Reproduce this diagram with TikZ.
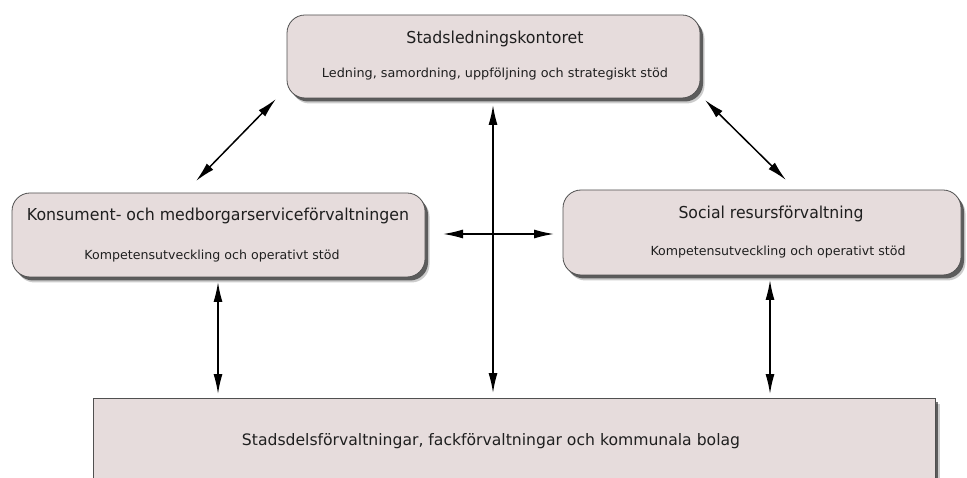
\documentclass[tikz,border=0pt]{standalone}
\usepackage{fontspec}
\setmainfont{DejaVu Sans}
\usetikzlibrary{arrows.meta,shadows}
\definecolor{boxfill}{HTML}{E6DCDC}
\definecolor{boxline}{HTML}{505050}
\tikzset{
  softshadow/.style={
    drop shadow={shadow xshift=4.5bp, shadow yshift=-5.5bp, fill=black, opacity=0.2},
    drop shadow={shadow xshift=3bp, shadow yshift=-3.5bp, fill=black, opacity=0.55}},
  orgbox/.style={draw=boxline, line width=0.8pt, fill=boxfill, rounded corners=18bp, softshadow},
  flatbox/.style={draw=boxline, line width=0.8pt, fill=boxfill, softshadow},
  link/.style={line width=1.5bp, {Latex[length=20bp,width=9bp]}-{Latex[length=20bp,width=9bp]}},
  txt/.style={inner sep=0pt, anchor=base, text=black!88}
}
\begin{document}
\begin{tikzpicture}[x=1bp,y=-1bp]
\useasboundingbox (0,0) rectangle (967,478);
\clip (0,0) rectangle (967,478);
% boxes
\path[orgbox] (287,15) rectangle (700,98);
\path[orgbox] (12,193) rectangle (425,277);
\path[orgbox] (563,190) rectangle (961,275);
\path[flatbox] (93,398) rectangle (935,490);
% texts
\node[txt] (t1) at (495,44) {\resizebox{177bp}{12.5bp}{Stadsledningskontoret}};
\node[txt] (t2) at (495,78) {\resizebox{346bp}{9.5bp}{Ledning, samordning, uppföljning och strategiskt stöd}};
\node[txt] (l1) at (218,221) {\resizebox{382bp}{12.5bp}{Konsument- och medborgarserviceförvaltningen}};
\node[txt] (l2) at (212,260) {\resizebox{255bp}{9.5bp}{Kompetensutveckling och operativt stöd}};
\node[txt] (r1) at (771,219) {\resizebox{185bp}{12.5bp}{Social resursförvaltning}};
\node[txt] (r2) at (778,256) {\resizebox{255bp}{9.5bp}{Kompetensutveckling och operativt stöd}};
\node[txt] (b1) at (491,445) {\resizebox{498bp}{12bp}{Stadsdelsförvaltningar, fackförvaltningar och kommunala bolag}};
% arrow endpoints
\coordinate (a1s) at (276,99);  \coordinate (a1e) at (196,181);
\coordinate (a2s) at (705,100); \coordinate (a2e) at (786,180);
\coordinate (a3s) at (493,105); \coordinate (a3e) at (493,393);
\coordinate (a4s) at (443,234); \coordinate (a4e) at (554,234);
\coordinate (a5s) at (218,282); \coordinate (a5e) at (218,394);
\coordinate (a6s) at (770,280); \coordinate (a6e) at (770,394);
\draw[link] (a1s) -- (a1e);
\draw[link] (a2s) -- (a2e);
\draw[link] (a3s) -- (a3e);
\draw[link] (a4s) -- (a4e);
\draw[link] (a5s) -- (a5e);
\draw[link] (a6s) -- (a6e);
\end{tikzpicture}
\end{document}
